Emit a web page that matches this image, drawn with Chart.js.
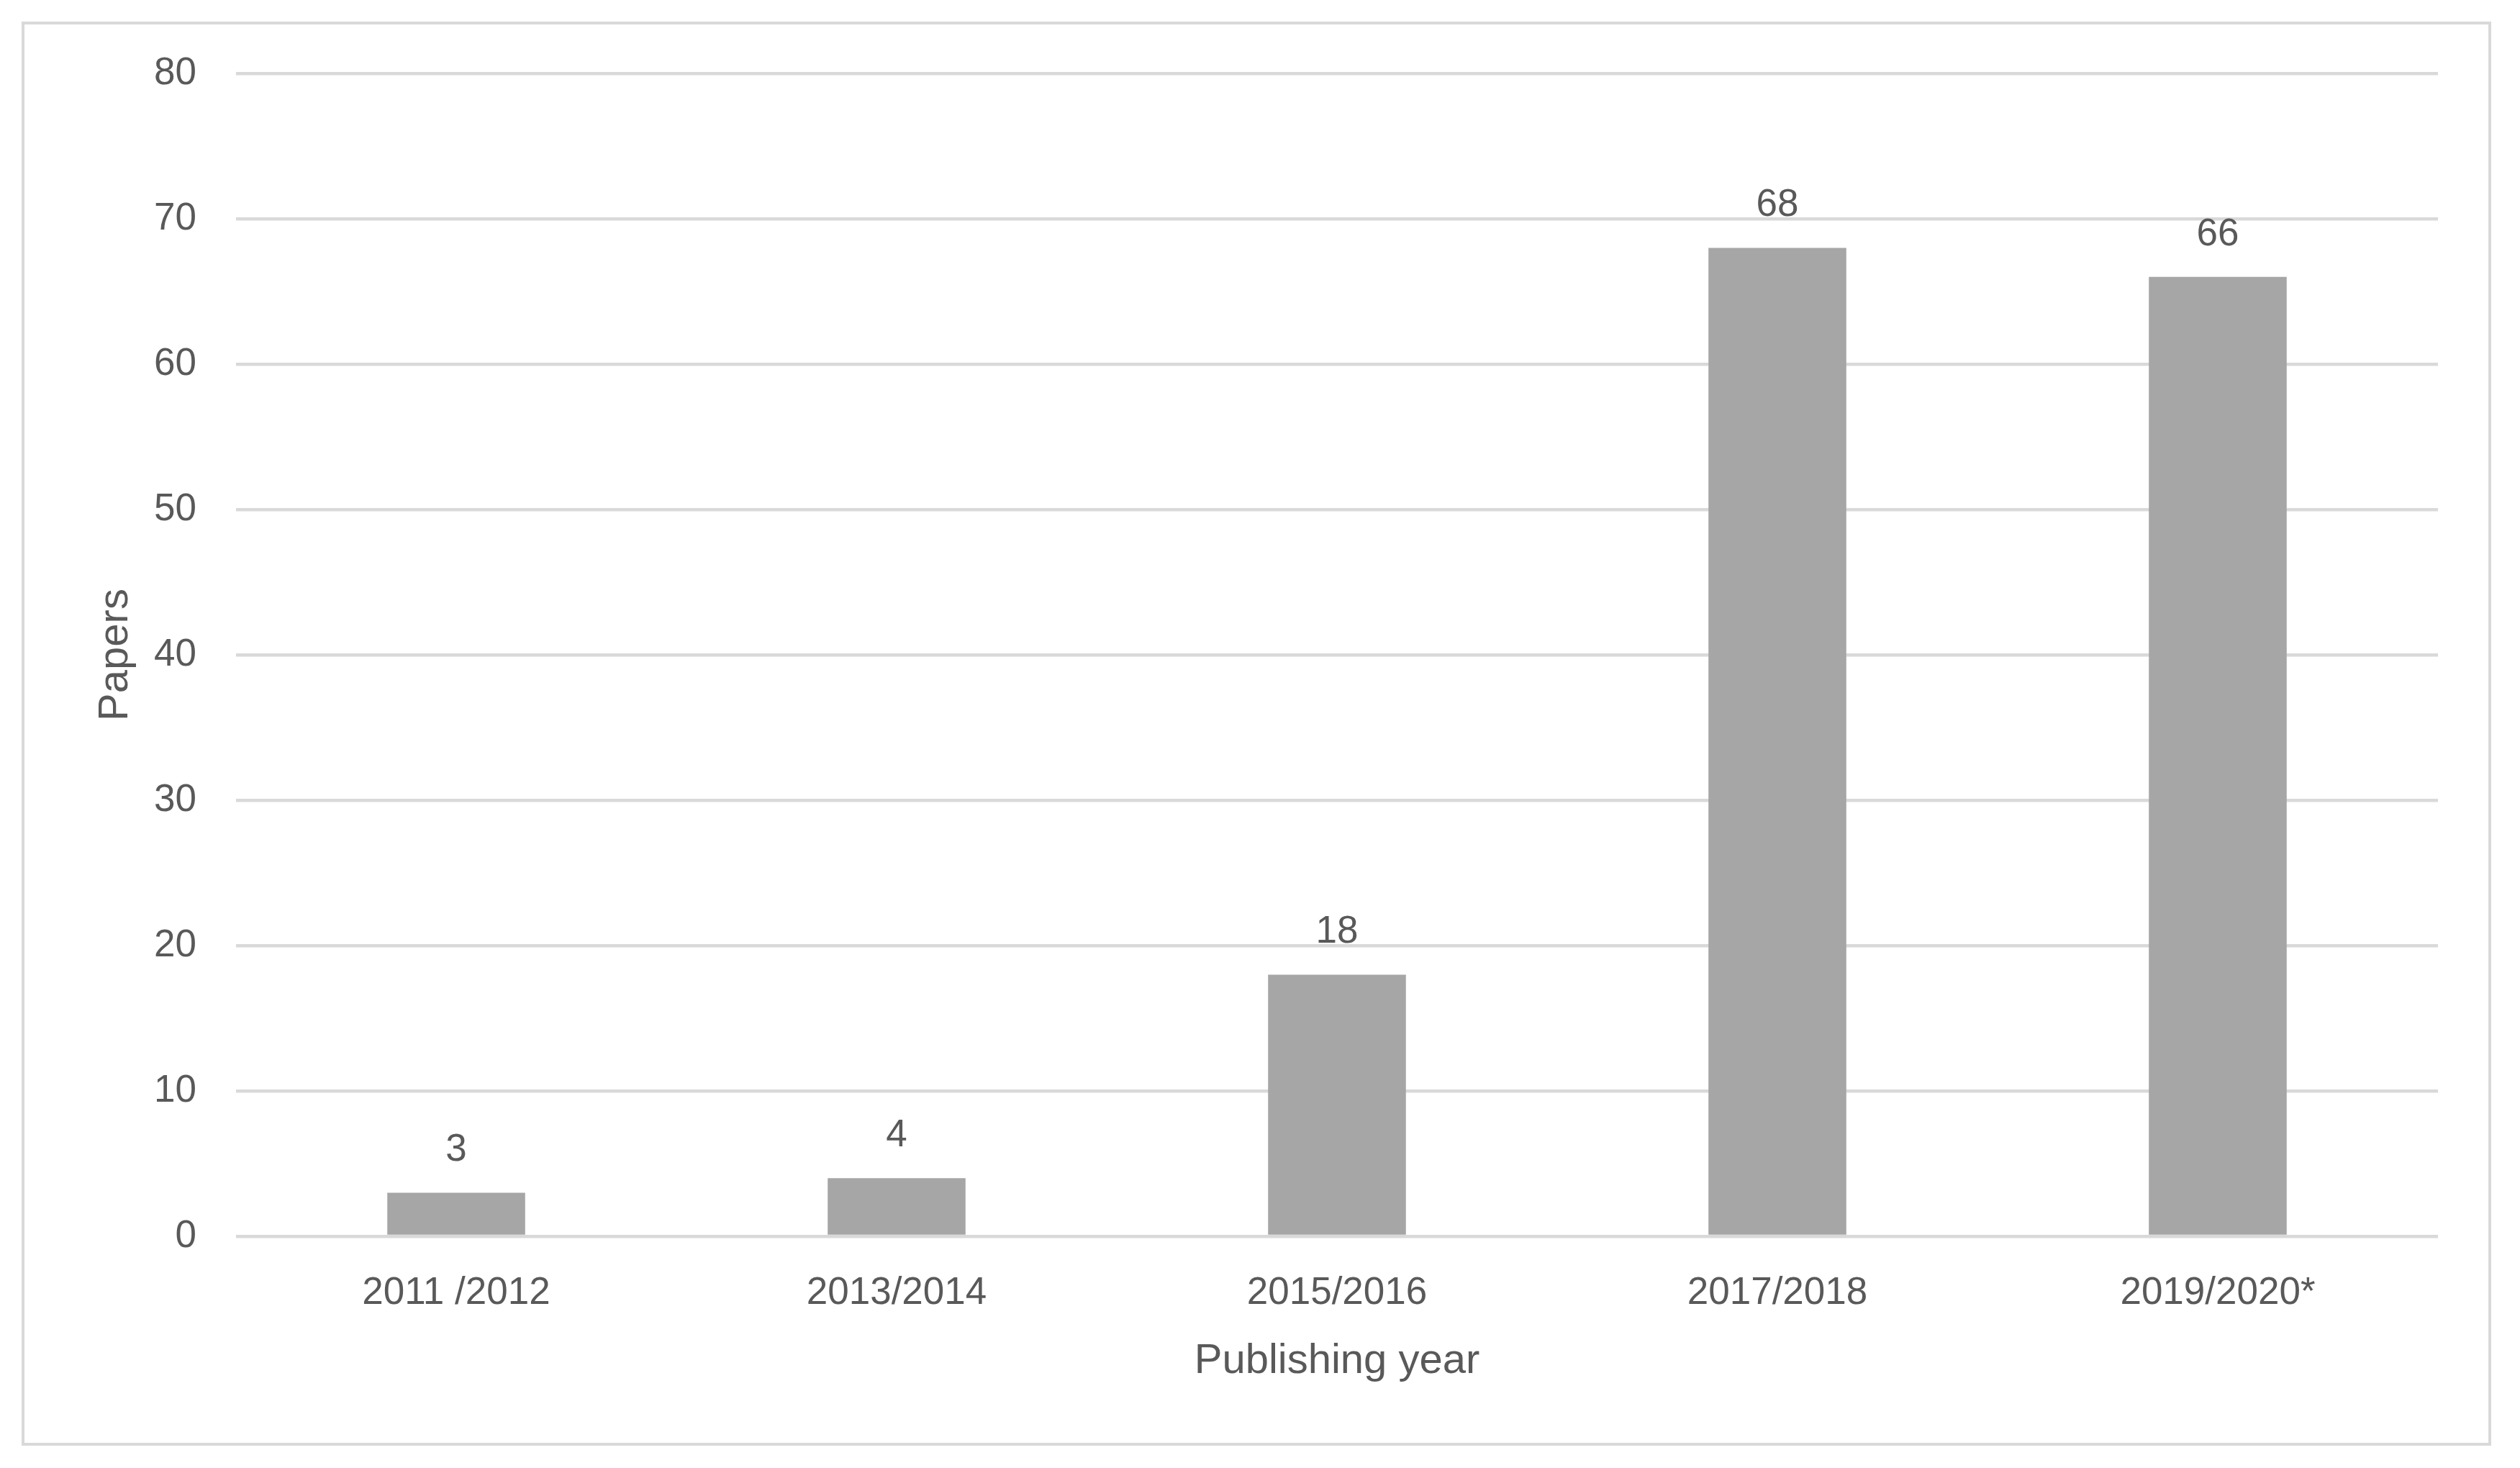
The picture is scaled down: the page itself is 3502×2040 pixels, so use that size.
<!DOCTYPE html>
<html>
<head>
<meta charset="utf-8">
<script src="https://cdn.jsdelivr.net/npm/chart.js@4.4.1/dist/chart.umd.min.js"></script>
<style>
  html, body { margin: 0; padding: 0; background: #ffffff; }
  canvas { display: block; }
</style>
</head>
<body>
<canvas id="chart" width="3502" height="2040"></canvas>
<script>
/* ================= DATA ================= */
const categories = ["2011 /2012", "2013/2014", "2015/2016", "2017/2018", "2019/2020*"];
const papers = [3, 4, 18, 68, 66];
const yTicks = [0, 10, 20, 30, 40, 50, 60, 70, 80];

const xTitle = "Publishing year";
const yTitle = "Papers";

/* ================= STYLE ================= */
const FONT = "'Liberation Sans', Arial, sans-serif";
const TEXT = "#595959";
const GRID = "#d9d9d9";
const BAR = "#a6a6a6";

/* outer frame like the Excel chart area */
const framePlugin = {
  id: "frame",
  beforeDraw(chart) {
    const c = chart.ctx;
    c.save();
    c.fillStyle = "#ffffff";
    c.fillRect(0, 0, chart.width, chart.height);
    c.strokeStyle = GRID;
    c.lineWidth = 4;
    c.strokeRect(32, 32, 3428, 1975);
    c.restore();
  }
};

/* value labels above the bars */
const valueLabels = {
  id: "valueLabels",
  afterDatasetsDraw(chart) {
    const c = chart.ctx;
    const meta = chart.getDatasetMeta(0);
    c.save();
    c.font = "53px " + FONT;
    c.fillStyle = TEXT;
    c.textAlign = "center";
    c.textBaseline = "alphabetic";
    meta.data.forEach((bar, i) => {
      c.fillText(String(papers[i]), bar.x, bar.y - 44);
    });
    c.restore();
  }
};

/* ================= CHART ================= */
const ctx = document.getElementById("chart").getContext("2d");

new Chart(ctx, {
  type: "bar",
  data: {
    labels: categories,
    datasets: [{
      data: papers,
      backgroundColor: BAR,
      borderWidth: 0,
      barPercentage: 0.313,
      categoryPercentage: 1.0
    }]
  },
  options: {
    responsive: false,
    animation: false,
    devicePixelRatio: 1,
    layout: { padding: { top: 102, right: 114, bottom: 0, left: 0 } },
    plugins: {
      legend: { display: false },
      tooltip: { enabled: false }
    },
    scales: {
      x: {
        grid: { display: false, drawTicks: false },
        border: { display: false },
        ticks: {
          color: TEXT,
          font: { family: FONT, size: 53 },
          padding: 48,
          maxRotation: 0,
          autoSkip: false
        },
        title: {
          display: true,
          text: xTitle,
          color: TEXT,
          font: { family: FONT, size: 58 },
          padding: { top: 0, bottom: 113 }
        },
        afterFit(scale) { scale.height = 2040 - 1718; }
      },
      y: {
        min: 0,
        max: 80,
        afterBuildTicks(scale) { scale.ticks = yTicks.map(v => ({ value: v })); },
        grid: { color: GRID, lineWidth: 4.5, drawTicks: false },
        border: { display: false },
        ticks: {
          color: TEXT,
          font: { family: FONT, size: 53 },
          padding: 55
        },
        title: {
          display: true,
          text: yTitle,
          color: TEXT,
          font: { family: FONT, size: 58 },
          padding: { top: 126, bottom: 0 }
        },
        afterFit(scale) { scale.width = 328; }
      }
    }
  },
  plugins: [framePlugin, valueLabels]
});
</script>
</body>
</html>
